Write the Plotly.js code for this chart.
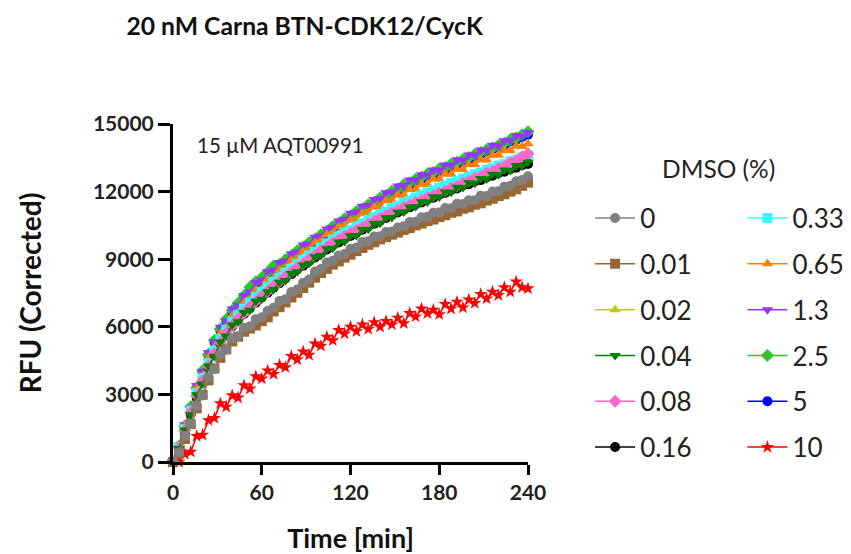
<!DOCTYPE html>
<html><head><meta charset="utf-8">
<script src="https://cdn.plot.ly/plotly-3.0.1.min.js"></script>
<style>html,body{margin:0;padding:0;background:#fff;}</style>
</head><body>
<div id="chart" style="width:851px;height:554px;"></div>
<script>
// Time points (min)
const time = [0,4,8,12,16,20,24,28,32,36,40,44,48,52,56,60,64,68,72,76,80,84,88,92,96,100,104,108,112,116,120,124,128,132,136,140,144,148,152,156,160,164,168,172,176,180,184,188,192,196,200,204,208,212,216,220,224,228,232,236,240];

const dmso_0 = [0,420,1150,1680,2500,2950,3750,4120,4780,4980,5480,5580,5960,6020,6340,6420,6700,6850,7150,7220,7540,7650,7960,8100,8450,8560,8850,8930,9160,9230,9460,9520,9760,9800,10010,10020,10210,10230,10410,10460,10650,10660,10860,10880,11060,11070,11270,11260,11460,11450,11620,11620,11820,11800,12000,12020,12220,12260,12460,12510,12680];
const dmso_001 = [0,380,1020,1680,2380,2980,3620,4150,4620,5000,5350,5560,5780,5920,6060,6250,6420,6680,6870,7080,7300,7510,7720,7960,8180,8390,8570,8760,8900,9070,9200,9360,9500,9640,9750,9880,9980,10090,10180,10300,10380,10500,10580,10690,10760,10870,10950,11060,11120,11240,11300,11420,11480,11600,11680,11800,11880,12000,12100,12260,12400];
const dmso_002 = [0,400,1000,1650,2350,2950,3600,4100,4580,4960,5300,5520,5740,5950,6100,6300,6460,6650,6850,7050,7260,7480,7680,7900,8120,8330,8500,8700,8850,9010,9150,9300,9440,9580,9700,9820,9930,10040,10130,10240,10330,10440,10520,10620,10700,10800,10880,10970,11040,11150,11220,11330,11400,11520,11600,11720,11800,11920,12020,12170,12300];
const dmso_004 = [0,600,1420,2100,2980,3460,4260,4690,5330,5590,6080,6220,6630,6740,7130,7220,7560,7660,7980,8060,8370,8440,8740,8810,9110,9160,9460,9490,9760,9790,10040,10050,10320,10330,10580,10590,10840,10850,11080,11090,11320,11330,11550,11540,11770,11760,11980,11970,12190,12180,12390,12370,12580,12560,12770,12750,12960,12940,13160,13140,13300];
const dmso_008 = [0,620,1400,2200,2950,3600,4250,4820,5300,5700,6050,6330,6600,6880,7120,7350,7580,7800,8000,8220,8420,8620,8800,9000,9180,9370,9540,9720,9860,10020,10150,10280,10420,10560,10680,10820,10940,11060,11170,11300,11400,11530,11620,11740,11830,11940,12030,12150,12240,12380,12460,12600,12680,12820,12900,13040,13120,13280,13380,13550,13680];
const dmso_016 = [0,580,1330,2120,2880,3550,4200,4760,5260,5680,6020,6300,6570,6830,7070,7300,7510,7740,7930,8150,8330,8540,8710,8910,9080,9270,9430,9610,9740,9910,10030,10170,10310,10450,10570,10710,10830,10960,11070,11200,11300,11430,11520,11650,11730,11860,11940,12070,12140,12270,12330,12450,12510,12630,12700,12820,12880,12990,13060,13170,13230];
const dmso_033 = [0,650,1450,2280,3050,3720,4380,4950,5450,5870,6230,6520,6800,7080,7320,7550,7770,7990,8180,8400,8580,8790,8960,9160,9330,9520,9690,9870,10010,10180,10300,10450,10590,10740,10860,11000,11120,11260,11360,11500,11600,11740,11830,11960,12050,12170,12260,12380,12460,12580,12650,12770,12840,12960,13030,13150,13220,13340,13410,13520,13600];
const dmso_065 = [0,700,1600,2330,3260,3820,4640,5070,5700,5980,6480,6640,7070,7210,7610,7710,8080,8180,8520,8610,8940,9020,9340,9410,9730,9790,10100,10150,10440,10480,10740,10760,11040,11060,11320,11330,11590,11600,11840,11850,12090,12100,12330,12320,12560,12550,12780,12770,12990,12980,13200,13190,13410,13400,13620,13610,13820,13810,14020,14000,14120];
const dmso_13 = [0,740,1650,2420,3400,4020,4860,5340,5980,6270,6790,6960,7390,7550,7970,8080,8440,8510,8850,8910,9240,9310,9630,9680,9970,10030,10340,10410,10690,10760,11040,11080,11350,11380,11650,11680,11950,11980,12250,12270,12510,12520,12750,12740,12960,12940,13180,13170,13410,13390,13620,13610,13850,13820,14060,14040,14260,14270,14490,14460,14620];
const dmso_25 = [0,700,1600,2450,3300,4050,4780,5400,5900,6330,6720,7050,7380,7750,8000,8180,8420,8700,8760,8980,9150,9370,9540,9740,9880,10080,10240,10450,10580,10800,10920,11120,11230,11420,11530,11720,11830,12010,12120,12300,12390,12550,12640,12780,12850,13000,13060,13210,13300,13430,13510,13650,13730,13860,13940,14050,14150,14300,14380,14520,14660];
const dmso_5 = [0,700,1500,2400,3250,4000,4700,5320,5820,6260,6650,6960,7250,7560,7800,8050,8250,8480,8660,8880,9050,9280,9440,9650,9780,10000,10150,10380,10500,10730,10850,11040,11160,11340,11460,11640,11760,11930,12050,12230,12320,12480,12560,12700,12770,12900,12980,13130,13220,13350,13430,13580,13660,13790,13870,13990,14070,14220,14300,14420,14520];
const dmso_10 = [0,0,350,450,1150,1200,1850,1950,2600,2450,2950,2850,3400,3250,3800,3700,4050,3900,4300,4200,4700,4550,4900,4750,5250,5150,5550,5400,5850,5700,6000,5800,6100,5900,6200,6000,6250,6100,6400,6150,6600,6450,6800,6600,6750,6550,7000,6800,7100,6850,7200,7050,7450,7250,7550,7400,7750,7550,8000,7750,7700];

const seriesNames = ["0","0.01","0.02","0.04","0.08","0.16","0.33","0.65","1.3","2.5","5","10"];
const seriesData = [dmso_0,dmso_001,dmso_002,dmso_004,dmso_008,dmso_016,dmso_033,dmso_065,dmso_13,dmso_25,dmso_5,dmso_10];
const seriesColors = ["#808080","#996633","#C8C800","#008000","#FF66CC","#000000","#33FFFF","#FF8000","#9933FF","#22CC22","#0000FF","#FF0000"];
const seriesSymbols = ["circle","square","triangle-up","triangle-down","diamond","circle","square","triangle-up","triangle-down","diamond","circle","star"];

const traces = [];
for (let i = seriesNames.length - 1; i >= 0; i--) {
  traces.push({
    type: "scatter",
    mode: "lines+markers",
    x: time,
    y: seriesData[i],
    name: seriesNames[i],
    legend: i < 6 ? "legend" : "legend2",
    legendgroup: "g" + i,
    legendrank: i,
    cliponaxis: false,
    line: {color: seriesColors[i], width: 1.5},
    marker: {color: seriesColors[i], symbol: seriesSymbols[i], size: 10, line: {width: 0}}
  });
}

const fontFam = "Lato, 'Open Sans', sans-serif";
const legendCommon = {
  font: {family: fontFam, size: 26, color: "#222"},
  bgcolor: "rgba(0,0,0,0)",
  borderwidth: 0,
  tracegroupgap: 9,
  itemwidth: 40,
  itemclick: false,
  xanchor: "left",
  yanchor: "top",
  traceorder: "grouped"
};

const layout = {
  width: 851, height: 554, autosize: false,
  margin: {l: 173, r: 323, t: 124, b: 92, autoexpand: false},
  paper_bgcolor: "#fff", plot_bgcolor: "#fff",
  showlegend: true,
  title: {text: "20 nM Carna BTN-CDK12/CycK", font: {family: fontFam, size: 24.7, weight: 700, color: "#111"}, x: 0.358, xanchor: "center", y: 0.953, yanchor: "middle"},
  xaxis: {
    range: [0, 240], tickvals: [0,60,120,180,240], ticktext: ["0","60","120","180","240"],
    showline: true, linecolor: "#000", linewidth: 3, ticks: "outside", ticklen: 10, tickwidth: 3, tickcolor: "#000",
    showgrid: false, zeroline: false,
    tickfont: {family: fontFam, size: 21, weight: 700, color: "#222"},
    title: {text: "Time [min]", font: {family: fontFam, size: 27, weight: 700, color: "#111"}, standoff: 26}
  },
  yaxis: {
    range: [0, 15000], tickvals: [0,3000,6000,9000,12000,15000], ticktext: ["0","3000","6000","9000","12000","15000"],
    showline: true, linecolor: "#000", linewidth: 3, ticks: "outside", ticklen: 12, tickwidth: 3, tickcolor: "#000",
    showgrid: false, zeroline: false,
    tickfont: {family: fontFam, size: 21, weight: 700, color: "#222"},
    title: {text: "RFU (Corrected)", font: {family: fontFam, size: 28, weight: 700, color: "#111"}, standoff: 44}
  },
  legend: Object.assign({}, legendCommon, {x: 1.175, y: 0.791}),
  legend2: Object.assign({}, legendCommon, {x: 1.604, y: 0.791}),
  annotations: [
    {text: "15 µM AQT00991", xref: "paper", yref: "paper", x: 0.062, y: 0.938, xanchor: "left", yanchor: "middle", showarrow: false, font: {family: fontFam, size: 20.5, color: "#222"}},
    {text: "DMSO (%)", xref: "paper", yref: "paper", x: 1.538, y: 0.867, xanchor: "center", yanchor: "middle", showarrow: false, font: {family: fontFam, size: 24.5, color: "#222"}}
  ]
};

Plotly.newPlot("chart", traces, layout, {staticPlot: true, displayModeBar: false});
</script>
</body></html>
